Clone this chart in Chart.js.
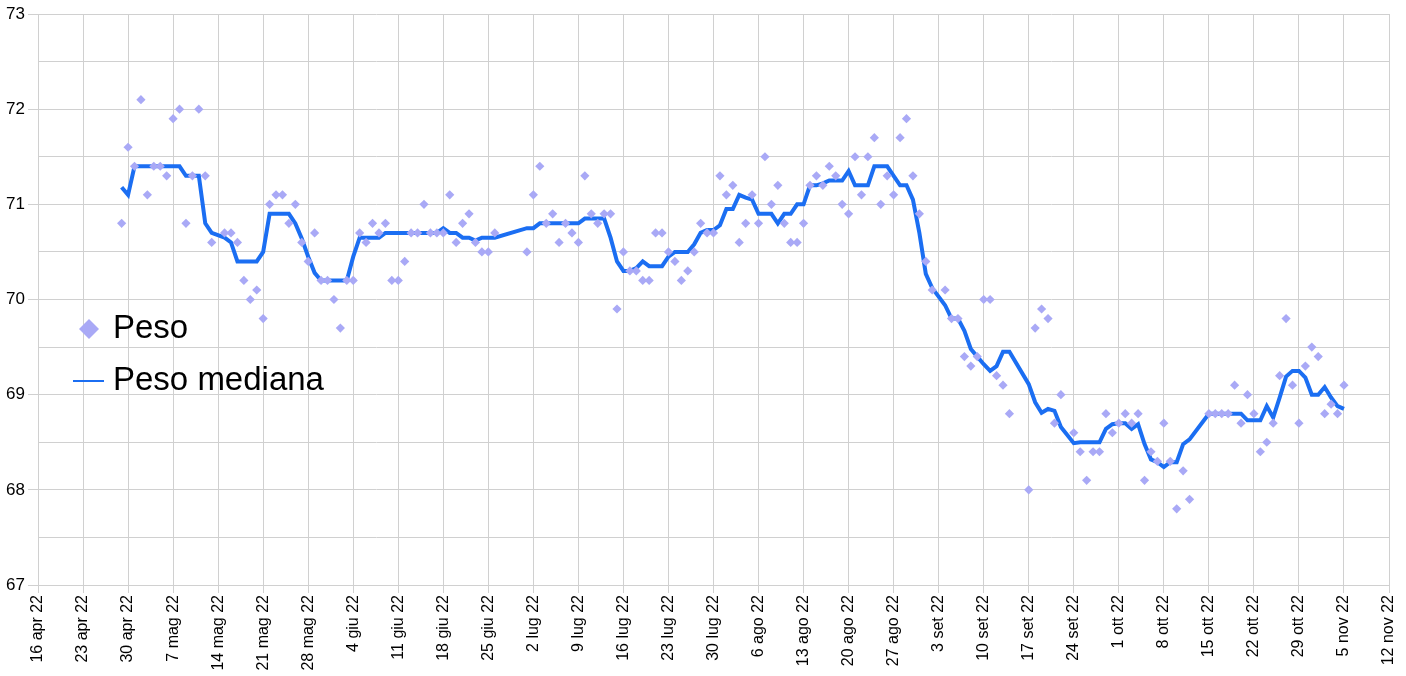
<!DOCTYPE html>
<html>
<head>
<meta charset="utf-8">
<script src="https://cdn.jsdelivr.net/npm/chart.js@4/dist/chart.umd.min.js"></script>
<style>
  body { margin: 0; background: #fff; }
</style>
</head>
<body>
<canvas id="pesoChart" width="1406" height="676"></canvas>
<script>
// giorni contati a partire dal 16 apr 22 (giorno 0)
var giorni = [
  13, 14, 15, 16, 17, 18, 19, 20, 21, 22, 23, 24, 25, 26, 27,
  29, 30, 31, 32, 33, 34, 35, 36, 37, 38, 39, 40, 41, 42, 43, 44, 45, 46, 47, 48, 49, 50,
  51, 52, 53, 54, 55, 56, 57, 58, 59, 60, 61, 62, 63, 64, 65, 66, 67, 68, 69, 70, 71,
  76, 77, 78, 79, 80, 81, 82, 83, 84, 85, 86, 87, 88, 89, 90, 91, 92, 93, 94, 95, 96, 97,
  98, 99, 100, 101, 102, 103, 104, 105, 106, 107, 108, 109, 110, 111, 112, 113, 114, 115,
  116, 117, 118, 119, 120, 121, 122, 123, 124, 125, 126, 127, 128, 129, 130, 131, 132, 133,
  134, 135, 136, 137, 138, 139,
  141, 142, 143, 144, 145, 146, 147, 148, 149, 150, 151,
  154, 155, 156, 157, 158, 159,
  161, 162, 163, 164, 165, 166, 167, 168, 169, 170, 171, 172, 173, 174, 175, 176, 177, 178, 179,
  182, 183, 184, 185, 186, 187, 188, 189, 190, 191, 192, 193, 194, 195, 196, 197, 198, 199,
  200, 201, 202, 203
];

var peso = [
  70.8, 71.6, 71.4, 72.1, 71.1, 71.4, 71.4, 71.3, 71.9, 72.0, 70.8, 71.3, 72.0, 71.3, 70.6,
  70.7, 70.7, 70.6, 70.2, 70.0, 70.1, 69.8, 71.0, 71.1, 71.1, 70.8, 71.0, 70.6, 70.4, 70.7, 70.2, 70.2, 70.0, 69.7, 70.2, 70.2, 70.7,
  70.6, 70.8, 70.7, 70.8, 70.2, 70.2, 70.4, 70.7, 70.7, 71.0, 70.7, 70.7, 70.7, 71.1, 70.6, 70.8, 70.9, 70.6, 70.5, 70.5, 70.7,
  70.5, 71.1, 71.4, 70.8, 70.9, 70.6, 70.8, 70.7, 70.6, 71.3, 70.9, 70.8, 70.9, 70.9, 69.9, 70.5, 70.3, 70.3, 70.2, 70.2, 70.7, 70.7,
  70.5, 70.4, 70.2, 70.3, 70.5, 70.8, 70.7, 70.7, 71.3, 71.1, 71.2, 70.6, 70.8, 71.1, 70.8, 71.5, 71.0, 71.2,
  70.8, 70.6, 70.6, 70.8, 71.2, 71.3, 71.2, 71.4, 71.3, 71.0, 70.9, 71.5, 71.1, 71.5, 71.7, 71.0, 71.3, 71.1,
  71.7, 71.9, 71.3, 70.9, 70.4, 70.1,
  70.1, 69.8, 69.8, 69.4, 69.3, 69.4, 70.0, 70.0, 69.2, 69.1, 68.8,
  68.0, 69.7, 69.9, 69.8, 68.7, 69.0,
  68.6, 68.4, 68.1, 68.4, 68.4, 68.8, 68.6, 68.7, 68.8, 68.7, 68.8, 68.1, 68.4, 68.3, 68.7, 68.3, 67.8, 68.2, 67.9,
  68.8, 68.8, 68.8, 68.8, 69.1, 68.7, 69.0, 68.8, 68.4, 68.5, 68.7, 69.2, 69.8, 69.1, 68.7, 69.3, 69.5, 69.4,
  68.8, 68.9, 68.8, 69.1
];

var pesoMediana = [
  71.18, 71.1, 71.4, 71.4, 71.4, 71.4, 71.4, 71.4, 71.4, 71.4, 71.3, 71.3, 71.3, 70.8, 70.7,
  70.65, 70.6, 70.4, 70.4, 70.4, 70.4, 70.5, 70.9, 70.9, 70.9, 70.9, 70.8, 70.64, 70.45, 70.28, 70.2, 70.2, 70.2, 70.2, 70.2, 70.45, 70.65,
  70.65, 70.65, 70.65, 70.7, 70.7, 70.7, 70.7, 70.7, 70.7, 70.7, 70.7, 70.7, 70.75, 70.7, 70.7, 70.65, 70.65, 70.62, 70.65, 70.65, 70.65,
  70.75, 70.75, 70.8, 70.8, 70.8, 70.8, 70.8, 70.8, 70.8, 70.85, 70.85, 70.85, 70.85, 70.65, 70.4, 70.3, 70.3, 70.33, 70.4, 70.35, 70.35, 70.35,
  70.45, 70.5, 70.5, 70.5, 70.58, 70.7, 70.73, 70.73, 70.78, 70.95, 70.95, 71.1, 71.07, 71.05, 70.9, 70.9, 70.9, 70.8,
  70.9, 70.9, 71.0, 71.0, 71.2, 71.2, 71.22, 71.25, 71.25, 71.25, 71.35, 71.2, 71.2, 71.2, 71.4, 71.4, 71.4, 71.3,
  71.2, 71.2, 71.05, 70.7, 70.27, 70.12,
  69.94, 69.8, 69.8, 69.67, 69.48, 69.4, 69.32, 69.25, 69.3, 69.45, 69.45,
  69.11, 68.92, 68.81, 68.85, 68.83, 68.66,
  68.49, 68.5, 68.5, 68.5, 68.5, 68.64, 68.69, 68.7, 68.7, 68.64, 68.69, 68.48, 68.32, 68.29, 68.24, 68.29, 68.29, 68.48, 68.53,
  68.8, 68.8, 68.8, 68.8, 68.8, 68.8, 68.73, 68.73, 68.73, 68.88, 68.76, 68.97, 69.19, 69.25, 69.25, 69.18, 69.0, 69.0,
  69.08, 68.97, 68.88, 68.85
];

// un'etichetta ogni 7 giorni
var etichetteDate = [
  '16 apr 22', '23 apr 22', '30 apr 22', '7 mag 22', '14 mag 22', '21 mag 22', '28 mag 22',
  '4 giu 22', '11 giu 22', '18 giu 22', '25 giu 22', '2 lug 22', '9 lug 22', '16 lug 22',
  '23 lug 22', '30 lug 22', '6 ago 22', '13 ago 22', '20 ago 22', '27 ago 22', '3 set 22',
  '10 set 22', '17 set 22', '24 set 22', '1 ott 22', '8 ott 22', '15 ott 22', '22 ott 22',
  '29 ott 22', '5 nov 22', '12 nov 22'
];

var FONT = '"Liberation Sans", Arial, Helvetica, sans-serif';
var colorePunti = '#a9a9f6';
var coloreLinea = '#1b6ef2';
var coloreGriglia = '#d0d0d0';

var puntiPeso = giorni.map(function (g, i) { return { x: g, y: peso[i] }; });
var puntiMediana = giorni.map(function (g, i) { return { x: g, y: pesoMediana[i] }; });

// legenda dentro l'area del grafico, a sinistra
var legendaInterna = {
  id: 'legendaInterna',
  afterDraw: function (chart) {
    var ctx = chart.ctx;
    var area = chart.chartArea;
    var ds = chart.data.datasets;
    ctx.save();
    ctx.font = '33px ' + FONT;
    ctx.fillStyle = '#000';
    ctx.textBaseline = 'middle';
    ctx.textAlign = 'left';

    var cx = area.left + 51, cy = area.top + 315, r = 10;
    ctx.beginPath();
    ctx.moveTo(cx, cy - r);
    ctx.lineTo(cx + r, cy);
    ctx.lineTo(cx, cy + r);
    ctx.lineTo(cx - r, cy);
    ctx.closePath();
    ctx.fillStyle = ds[0].backgroundColor;
    ctx.fill();
    ctx.fillStyle = '#000';
    ctx.fillText(ds[0].label, area.left + 75, cy);

    var ly = area.top + 367;
    ctx.beginPath();
    ctx.moveTo(area.left + 35, ly);
    ctx.lineTo(area.left + 66, ly);
    ctx.strokeStyle = ds[1].borderColor;
    ctx.lineWidth = 2;
    ctx.stroke();
    ctx.fillText(ds[1].label, area.left + 75, ly);
    ctx.restore();
  }
};

var ctx = document.getElementById('pesoChart').getContext('2d');
var myChart = new Chart(ctx, {
  type: 'scatter',
  data: {
    datasets: [{
      label: 'Peso',
      data: puntiPeso,
      backgroundColor: colorePunti,
      borderWidth: 0,
      pointStyle: 'rectRot',
      pointRadius: 4.6,
      pointHoverRadius: 4.6
    }, {
      type: 'line',
      label: 'Peso mediana',
      data: puntiMediana,
      borderColor: coloreLinea,
      backgroundColor: coloreLinea,
      borderWidth: 4,
      pointRadius: 0,
      tension: 0,
      fill: false
    }]
  },
  options: {
    responsive: false,
    animation: false,
    layout: { padding: { top: 14, right: 17, left: 0, bottom: 0 } },
    plugins: {
      legend: { display: false },
      tooltip: { enabled: false }
    },
    scales: {
      x: {
        type: 'linear',
        min: 0,
        max: 210,
        afterFit: function (scale) {
          scale.height = 91;
          scale.paddingLeft = 0;
          scale.paddingRight = 0;
        },
        grid: { color: coloreGriglia, tickLength: 8, lineWidth: 1 },
        border: { color: coloreGriglia },
        ticks: {
          stepSize: 7,
          autoSkip: false,
          minRotation: 90,
          maxRotation: 90,
          padding: 2,
          color: '#000',
          font: { family: FONT, size: 16 },
          callback: function (v) { return etichetteDate[Math.round(v / 7)]; }
        }
      },
      y: {
        min: 67,
        max: 73,
        afterFit: function (scale) { scale.width = 38; },
        grid: {
          color: coloreGriglia,
          tickLength: 10,
          lineWidth: 1,
          tickColor: function (c) { return Number.isInteger(c.tick.value) ? coloreGriglia : 'rgba(0,0,0,0)'; }
        },
        border: { color: coloreGriglia },
        ticks: {
          stepSize: 0.5,
          padding: 3,
          color: '#000',
          font: { family: FONT, size: 17 },
          callback: function (v) { return Number.isInteger(v) ? v : ''; }
        }
      }
    }
  },
  plugins: [legendaInterna]
});
</script>
</body>
</html>
